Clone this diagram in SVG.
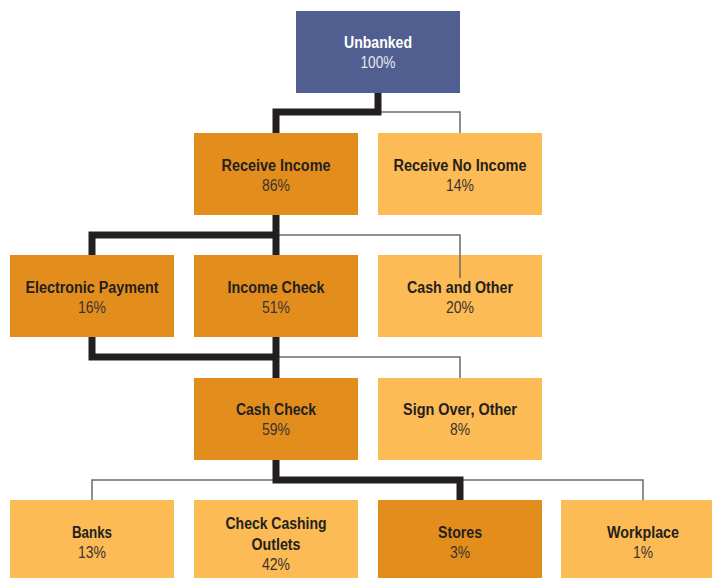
<svg xmlns="http://www.w3.org/2000/svg" width="712" height="578" viewBox="0 0 712 578">
<style>
.blue{fill:#515f90}
.dark{fill:#e38e1c}
.light{fill:#fcbb54}
text{font-family:"Liberation Sans","Arial",sans-serif;font-size:16px;text-anchor:middle;fill:#231f20}
.t{font-weight:bold}
.p{fill:#3a3330}
.w{fill:#ffffff}
.wp{fill:#e4e6f0}
.thick{fill:none;stroke:#231f20;stroke-width:7;stroke-linejoin:miter}
.thin{fill:none;stroke:#6b6b6b;stroke-width:1.5}
</style>
<rect width="712" height="578" fill="#ffffff"/>
<g id="unbanked"><rect class="blue" x="296" y="11" width="164" height="82"/><text class="t w" x="378" y="48" textLength="68" lengthAdjust="spacingAndGlyphs">Unbanked</text><text class="wp" x="378" y="68" textLength="35" lengthAdjust="spacingAndGlyphs">100%</text></g>
<g id="receive-income"><rect class="dark" x="194" y="133" width="164" height="82"/><text class="t" x="276" y="171" textLength="109" lengthAdjust="spacingAndGlyphs">Receive Income</text><text class="p" x="276" y="191" textLength="28" lengthAdjust="spacingAndGlyphs">86%</text></g>
<g id="receive-no-income"><rect class="light" x="378" y="133" width="164" height="82"/><text class="t" x="460" y="171" textLength="133" lengthAdjust="spacingAndGlyphs">Receive No Income</text><text class="p" x="460" y="191" textLength="28" lengthAdjust="spacingAndGlyphs">14%</text></g>
<g id="electronic-payment"><rect class="dark" x="10" y="255" width="164" height="82"/><text class="t" x="92" y="293" textLength="133" lengthAdjust="spacingAndGlyphs">Electronic Payment</text><text class="p" x="92" y="313" textLength="28" lengthAdjust="spacingAndGlyphs">16%</text></g>
<g id="income-check"><rect class="dark" x="194" y="255" width="164" height="82"/><text class="t" x="276" y="293" textLength="97" lengthAdjust="spacingAndGlyphs">Income Check</text><text class="p" x="276" y="313" textLength="28" lengthAdjust="spacingAndGlyphs">51%</text></g>
<g id="cash-and-other"><rect class="light" x="378" y="255" width="164" height="82"/><text class="t" x="460" y="293" textLength="106" lengthAdjust="spacingAndGlyphs">Cash and Other</text><text class="p" x="460" y="313" textLength="28" lengthAdjust="spacingAndGlyphs">20%</text></g>
<g id="cash-check"><rect class="dark" x="194" y="378" width="164" height="82"/><text class="t" x="276" y="415" textLength="80" lengthAdjust="spacingAndGlyphs">Cash Check</text><text class="p" x="276" y="435" textLength="28" lengthAdjust="spacingAndGlyphs">59%</text></g>
<g id="sign-over"><rect class="light" x="378" y="378" width="164" height="82"/><text class="t" x="460" y="415" textLength="114" lengthAdjust="spacingAndGlyphs">Sign Over, Other</text><text class="p" x="460" y="435" textLength="20" lengthAdjust="spacingAndGlyphs">8%</text></g>
<g id="banks"><rect class="light" x="10" y="500" width="164" height="82"/><text class="t" x="92" y="538" textLength="40" lengthAdjust="spacingAndGlyphs">Banks</text><text class="p" x="92" y="558" textLength="28" lengthAdjust="spacingAndGlyphs">13%</text></g>
<g id="check-cashing"><rect class="light" x="194" y="500" width="164" height="82"/><text class="t" x="276" y="529" textLength="101" lengthAdjust="spacingAndGlyphs">Check Cashing</text><text class="t" x="276" y="550" textLength="49" lengthAdjust="spacingAndGlyphs">Outlets</text><text class="p" x="276" y="570" textLength="28" lengthAdjust="spacingAndGlyphs">42%</text></g>
<g id="stores"><rect class="dark" x="378" y="500" width="164" height="82"/><text class="t" x="460" y="538" textLength="44" lengthAdjust="spacingAndGlyphs">Stores</text><text class="p" x="460" y="558" textLength="20" lengthAdjust="spacingAndGlyphs">3%</text></g>
<g id="workplace"><rect class="light" x="561" y="500" width="164" height="82"/><text class="t" x="643" y="538" textLength="72" lengthAdjust="spacingAndGlyphs">Workplace</text><text class="p" x="643" y="558" textLength="20" lengthAdjust="spacingAndGlyphs">1%</text></g>
<g id="connectors">
<path class="thin" d="M378,112 H460 V133"/>
<path class="thin" d="M276,235 H460 V278"/>
<path class="thin" d="M276,357 H460 V378"/>
<path class="thin" d="M92,500 V480 H643 V500"/>
<path class="thick" d="M378,93 V112 H276 V133"/>
<path class="thick" d="M276,215 V255 M279.5,235 H92 V255"/>
<path class="thick" d="M92,337 V357 H279.5 M276,337 V378"/>
<path class="thick" d="M276,460 V480 H460 V500"/>
</g>
</svg>
